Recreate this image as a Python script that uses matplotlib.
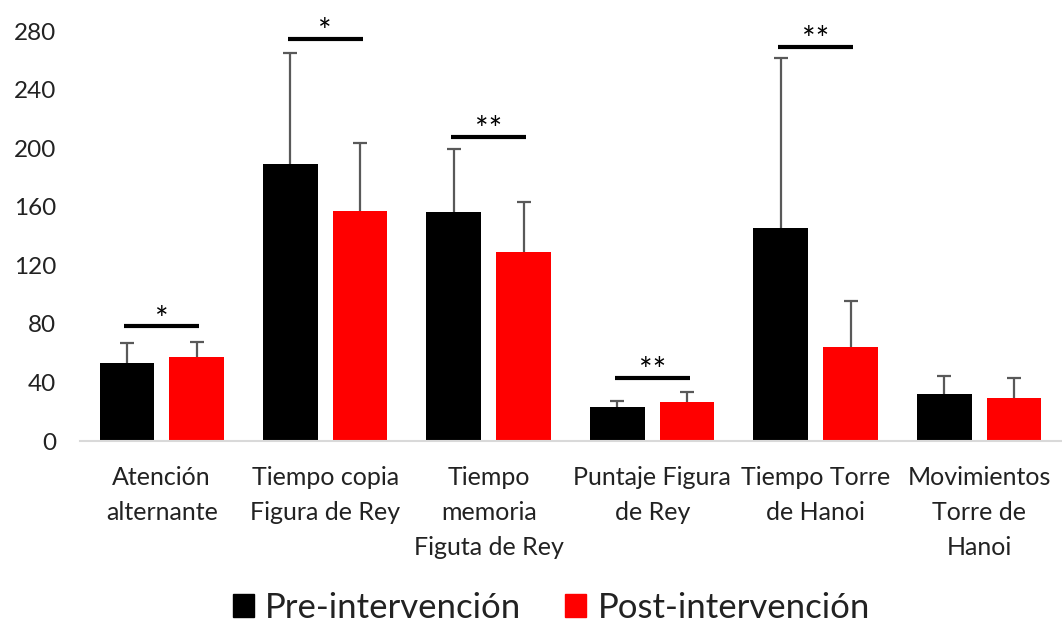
import matplotlib
matplotlib.use("Agg")
import matplotlib.pyplot as plt
import numpy as np
from matplotlib.patches import Patch

categories = ["Atención\nalternante", "Tiempo copia\nFigura de Rey", "Tiempo\nmemoria\nFiguta de Rey",
              "Puntaje Figura\nde Rey", "Tiempo Torre\nde Hanoi", "Movimientos\nTorre de\nHanoi"]
pre = [53, 189.4, 156.2, 23, 145.7, 31.9]
post = [57.2, 157.1, 128.9, 26.4, 64, 29.2]
pre_err = [13.7, 75.4, 43.5, 4.3, 115.7, 12.3]
post_err = [10.4, 46.7, 34.6, 6.9, 31.6, 13.8]
sig_labels = ["*", "*", "**", "**", "**", ""]
sig_y = [78.5, 274.6, 207.9, 43.2, 269.3, None]
series_names = ["Pre-intervención", "Post-intervención"]
yticks = [0, 40, 80, 120, 160, 200, 240, 280]

plt.rcParams['font.family'] = ['Lato', 'DejaVu Sans']

fig = plt.figure(figsize=(10.62, 6.25), dpi=100)
ax = fig.add_axes([0.0753, 0.2944, 0.9237, 0.656])

x = np.arange(len(categories))
w = 0.335
off = 0.213
ekw = dict(ecolor="#595959", elinewidth=1.6, capsize=4.8, capthick=1.6)
b1 = ax.bar(x - off, pre, w, color="black", yerr=[np.zeros(len(pre)), pre_err], error_kw=ekw, zorder=2)
b2 = ax.bar(x + off, post, w, color="#ff0000", yerr=[np.zeros(len(post)), post_err], error_kw=ekw, zorder=2)
for b in (b1, b2):
    caps = b.errorbar.lines[1]
    if len(caps) > 1:
        caps[0].set_visible(False)

for i, (lab, yy) in enumerate(zip(sig_labels, sig_y)):
    if yy is None or not lab:
        continue
    ax.plot([i - 0.23, i + 0.23], [yy, yy], color="black", lw=3, solid_capstyle="butt", zorder=3)
    ax.annotate(lab, (i, yy), xytext=(0, -2.5), textcoords="offset points", ha="center", va="baseline",
                fontsize=23, zorder=3)

ax.set_xlim(-0.5, len(categories) - 0.5)
ax.set_ylim(0, 280)
ax.set_yticks(yticks)
ax.set_xticks(x)
ax.set_xticklabels(categories, fontsize=18, linespacing=1.62)
ax.tick_params(axis="y", length=0, pad=17, labelsize=17.5, labelcolor="#222222")
ax.tick_params(axis="x", length=0, pad=18, labelcolor="#222222")
for s in ["top", "right", "left"]:
    ax.spines[s].set_visible(False)
ax.spines["bottom"].set_color("#d9d9d9")
ax.spines["bottom"].set_linewidth(1.5)

handles = [Patch(color="black"), Patch(color="#ff0000")]
fig.legend(handles, series_names, loc="center", bbox_to_anchor=(0.519, 0.028), ncol=2, frameon=False,
           fontsize=25, handlelength=0.62, handleheight=0.62, handletextpad=0.32, columnspacing=1.25,
           labelcolor="#222222")

fig.savefig("out.png", dpi=100, facecolor="white")
